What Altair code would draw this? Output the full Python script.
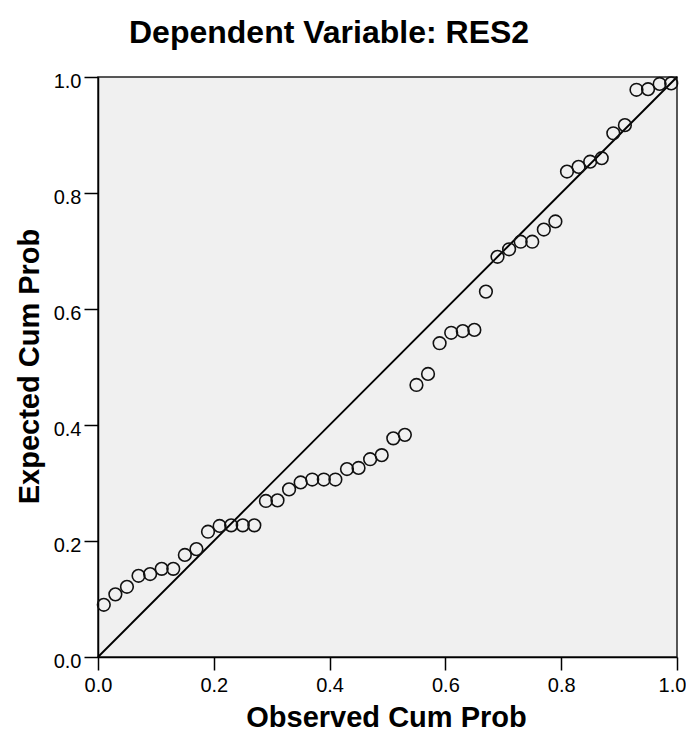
import altair as alt
import pandas as pd

# Observed cumulative probability (x) for each case
observed = [0.01, 0.03, 0.05, 0.07, 0.09, 0.11, 0.13, 0.15, 0.17, 0.19,
            0.21, 0.23, 0.25, 0.27, 0.29, 0.31, 0.33, 0.35, 0.37, 0.39,
            0.41, 0.43, 0.45, 0.47, 0.49, 0.51, 0.53, 0.55, 0.57, 0.59,
            0.61, 0.63, 0.65, 0.67, 0.69, 0.71, 0.73, 0.75, 0.77, 0.79,
            0.81, 0.83, 0.85, 0.87, 0.89, 0.91, 0.93, 0.95, 0.97, 0.99]
# Expected cumulative probability (y)
expected = [0.090, 0.108, 0.121, 0.140, 0.143, 0.152, 0.152, 0.176, 0.186, 0.216,
            0.226, 0.227, 0.227, 0.227, 0.269, 0.270, 0.289, 0.301, 0.306, 0.306,
            0.306, 0.324, 0.326, 0.341, 0.348, 0.377, 0.383, 0.469, 0.488, 0.541,
            0.559, 0.562, 0.564, 0.630, 0.690, 0.703, 0.716, 0.716, 0.737, 0.751,
            0.837, 0.845, 0.854, 0.860, 0.903, 0.917, 0.978, 0.979, 0.988, 0.989]
diag_line = [0.0, 1.0]
tick_values = [0.0, 0.2, 0.4, 0.6, 0.8, 1.0]

FONT = "Liberation Sans"

points = pd.DataFrame({"observed": observed, "expected": expected})
diag = pd.DataFrame({"observed": diag_line, "expected": diag_line})

xscale = alt.Scale(domain=[0, 1], nice=False, zero=False)
yscale = alt.Scale(domain=[0, 1], nice=False, zero=False)

x_axis = alt.Axis(values=tick_values, format=".1f", title="Observed Cum Prob",
                  tickSize=13, labelPadding=5, labelFlush=False, labelOverlap=False,
                  labelOffset=alt.ExprRef(expr="datum.value == 1 ? -5 : 0"),
                  titleX=288, titleY=69,
                  titleBaseline="alphabetic", titleAlign="center")
y_axis = alt.Axis(values=tick_values, format=".1f", title="Expected Cum Prob",
                  tickSize=14, labelPadding=3, labelOffset=4,
                  labelFlush=False, labelOverlap=False,
                  titleX=-60, titleY=289, titleAngle=270,
                  titleBaseline="alphabetic", titleAlign="center")

line = alt.Chart(diag).mark_line(color="#000000", strokeWidth=1.9).encode(
    x=alt.X("observed:Q", scale=xscale, axis=x_axis),
    y=alt.Y("expected:Q", scale=yscale, axis=y_axis),
)

pts = alt.Chart(points).mark_point(shape="circle", filled=False, color="#111111",
                                   size=160, strokeWidth=1.6, opacity=1).encode(
    x=alt.X("observed:Q", scale=xscale),
    y=alt.Y("expected:Q", scale=yscale),
)

chart = alt.layer(line, pts).properties(
    width=579,
    height=580,
    background="#FFFFFF",
    autosize=alt.AutoSizeParams(type="none"),
    padding={"left": 90, "top": 69, "right": 9, "bottom": 76},
    title=alt.TitleParams(text="Dependent Variable: RES2", font=FONT, fontSize=32,
                          fontWeight="bold", color="#000000", anchor="start",
                          frame="group", dx=31, dy=26, offset=22, baseline="alphabetic"),
).configure_view(
    fill="#F0F0F0", stroke="#222222", strokeWidth=1.5
).configure_axis(
    grid=False, domainColor="#000000", domainWidth=1.5, tickColor="#000000",
    tickWidth=1.5, labelFont=FONT, labelFontSize=20, labelColor="#000000",
    titleFont=FONT, titleFontSize=29, titleFontWeight="bold", titleColor="#000000",
)

chart.save("out.html", embed_options={"renderer": "svg", "actions": False})
